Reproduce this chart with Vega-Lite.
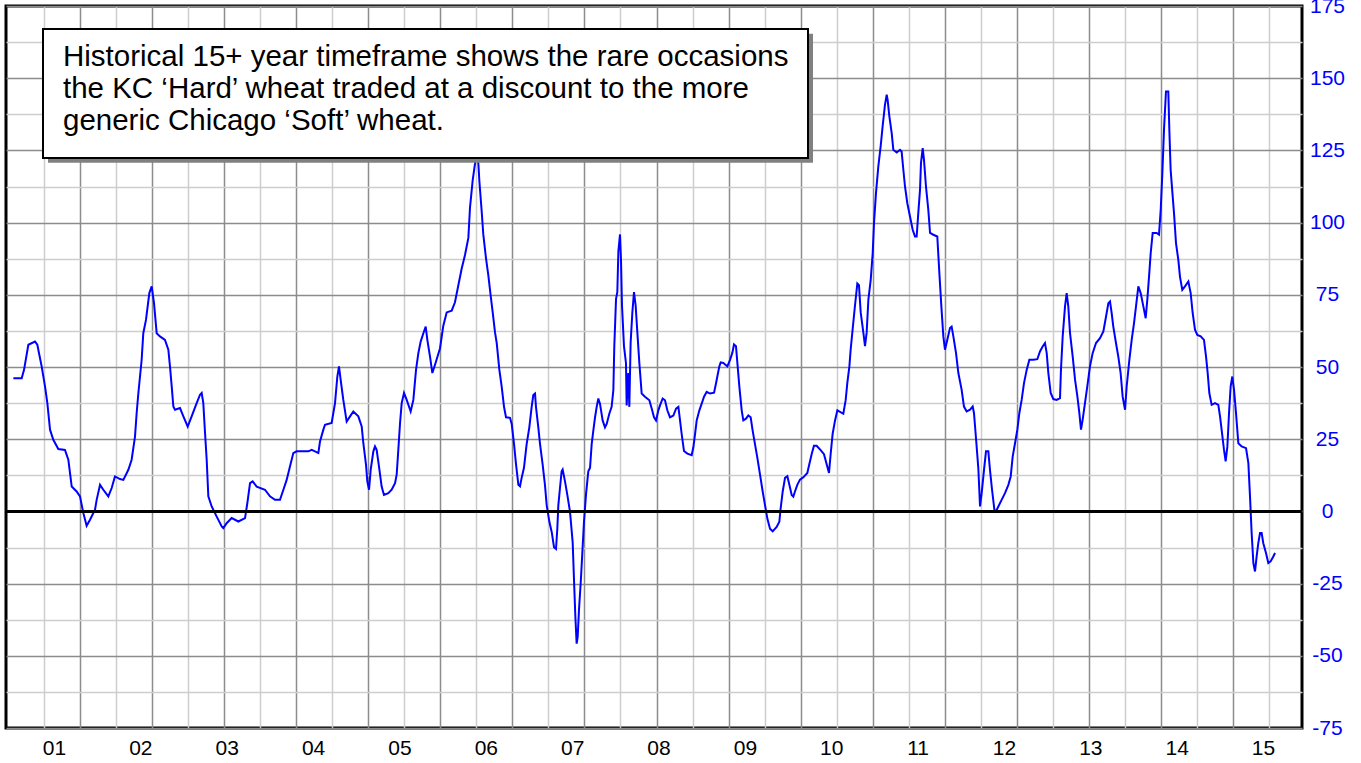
{
  "$schema": "https://vega.github.io/schema/vega-lite/v6.json",
  "width": 1296,
  "height": 722,
  "autosize": {"type": "none"},
  "padding": {"left": 6, "top": 6, "right": 59, "bottom": 35},
  "background": "white",
  "config": {"view": {"stroke": "black", "strokeWidth": 3}},
  "datasets": {
    "spread": [
      {"year":2000.529,"spread":46.1},{"year":2000.626,"spread":46.1},{"year":2000.653,"spread":49.0},{"year":2000.703,"spread":57.7},{"year":2000.780,"spread":58.8},{"year":2000.807,"spread":57.7},{"year":2000.857,"spread":50.2},{"year":2000.896,"spread":43.3},{"year":2000.923,"spread":37.5},{"year":2000.954,"spread":28.3},{"year":2000.992,"spread":24.8},{"year":2001.050,"spread":21.6},{"year":2001.127,"spread":21.3},{"year":2001.166,"spread":17.9},{"year":2001.205,"spread":8.6},{"year":2001.262,"spread":6.9},{"year":2001.301,"spread":5.2},{"year":2001.340,"spread":-0.6},{"year":2001.378,"spread":-5.0},{"year":2001.417,"spread":-2.9},{"year":2001.475,"spread":0.6},{"year":2001.494,"spread":4.0},{"year":2001.533,"spread":9.2},{"year":2001.571,"spread":7.5},{"year":2001.629,"spread":5.2},{"year":2001.668,"spread":8.1},{"year":2001.706,"spread":12.1},{"year":2001.764,"spread":11.2},{"year":2001.803,"spread":10.9},{"year":2001.861,"spread":14.4},{"year":2001.899,"spread":17.9},{"year":2001.938,"spread":25.9},{"year":2001.957,"spread":34.0},{"year":2001.977,"spread":41.0},{"year":2002.015,"spread":52.5},{"year":2002.034,"spread":61.7},{"year":2002.065,"spread":66.3},{"year":2002.104,"spread":75.6},{"year":2002.131,"spread":77.9},{"year":2002.142,"spread":75.6},{"year":2002.158,"spread":72.1},{"year":2002.189,"spread":61.7},{"year":2002.227,"spread":60.6},{"year":2002.285,"spread":59.4},{"year":2002.324,"spread":56.0},{"year":2002.343,"spread":50.2},{"year":2002.363,"spread":43.3},{"year":2002.382,"spread":36.3},{"year":2002.401,"spread":35.2},{"year":2002.459,"spread":35.8},{"year":2002.498,"spread":32.9},{"year":2002.548,"spread":29.4},{"year":2002.594,"spread":32.9},{"year":2002.652,"spread":37.5},{"year":2002.691,"spread":40.4},{"year":2002.710,"spread":41.0},{"year":2002.729,"spread":37.5},{"year":2002.749,"spread":27.1},{"year":2002.768,"spread":17.9},{"year":2002.787,"spread":5.2},{"year":2002.826,"spread":1.7},{"year":2002.884,"spread":-1.8},{"year":2002.942,"spread":-5.2},{"year":2002.961,"spread":-5.8},{"year":2002.999,"spread":-4.1},{"year":2003.057,"spread":-2.3},{"year":2003.135,"spread":-3.5},{"year":2003.212,"spread":-2.3},{"year":2003.239,"spread":2.9},{"year":2003.270,"spread":9.8},{"year":2003.300,"spread":10.4},{"year":2003.347,"spread":8.6},{"year":2003.443,"spread":7.5},{"year":2003.501,"spread":5.2},{"year":2003.559,"spread":4.0},{"year":2003.617,"spread":4.0},{"year":2003.656,"spread":7.5},{"year":2003.694,"spread":10.9},{"year":2003.733,"spread":15.6},{"year":2003.771,"spread":20.2},{"year":2003.810,"spread":20.8},{"year":2003.945,"spread":20.8},{"year":2003.984,"spread":21.3},{"year":2004.022,"spread":20.8},{"year":2004.061,"spread":20.2},{"year":2004.080,"spread":24.2},{"year":2004.119,"spread":28.3},{"year":2004.138,"spread":30.0},{"year":2004.215,"spread":30.6},{"year":2004.254,"spread":37.5},{"year":2004.281,"spread":46.7},{"year":2004.300,"spread":50.2},{"year":2004.319,"spread":45.6},{"year":2004.350,"spread":38.6},{"year":2004.389,"spread":31.1},{"year":2004.428,"spread":32.9},{"year":2004.466,"spread":34.6},{"year":2004.524,"spread":32.9},{"year":2004.563,"spread":29.4},{"year":2004.582,"spread":23.6},{"year":2004.613,"spread":16.1},{"year":2004.628,"spread":10.4},{"year":2004.648,"spread":7.5},{"year":2004.667,"spread":14.4},{"year":2004.698,"spread":20.8},{"year":2004.717,"spread":22.5},{"year":2004.736,"spread":21.3},{"year":2004.763,"spread":15.6},{"year":2004.794,"spread":8.6},{"year":2004.821,"spread":5.7},{"year":2004.871,"spread":6.3},{"year":2004.910,"spread":7.5},{"year":2004.949,"spread":9.8},{"year":2004.968,"spread":12.7},{"year":2004.987,"spread":21.3},{"year":2005.007,"spread":30.6},{"year":2005.026,"spread":37.5},{"year":2005.053,"spread":41.0},{"year":2005.084,"spread":38.6},{"year":2005.130,"spread":34.6},{"year":2005.161,"spread":38.6},{"year":2005.192,"spread":49.0},{"year":2005.219,"spread":54.8},{"year":2005.246,"spread":58.8},{"year":2005.277,"spread":61.7},{"year":2005.304,"spread":64.0},{"year":2005.323,"spread":59.4},{"year":2005.354,"spread":53.6},{"year":2005.381,"spread":47.9},{"year":2005.412,"spread":50.8},{"year":2005.470,"spread":56.5},
      {"year":2005.508,"spread":64.3},{"year":2005.547,"spread":68.9},{"year":2005.605,"spread":69.5},{"year":2005.643,"spread":72.4},{"year":2005.682,"spread":78.3},{"year":2005.721,"spread":84.1},{"year":2005.759,"spread":88.8},{"year":2005.798,"spread":94.7},{"year":2005.817,"spread":105.2},{"year":2005.848,"spread":114.6},{"year":2005.875,"spread":120.4},{"year":2005.894,"spread":127.4},{"year":2005.914,"spread":120.4},{"year":2005.925,"spread":114.6},{"year":2005.952,"spread":104.0},{"year":2005.971,"spread":95.9},{"year":2006.002,"spread":87.7},{"year":2006.029,"spread":81.8},{"year":2006.056,"spread":74.8},{"year":2006.080,"spread":68.9},{"year":2006.107,"spread":61.9},{"year":2006.126,"spread":58.4},{"year":2006.157,"spread":49.0},{"year":2006.184,"spread":43.2},{"year":2006.211,"spread":36.2},{"year":2006.234,"spread":32.6},{"year":2006.280,"spread":32.4},{"year":2006.300,"spread":30.3},{"year":2006.327,"spread":23.3},{"year":2006.350,"spread":16.3},{"year":2006.377,"spread":9.2},{"year":2006.396,"spread":8.7},{"year":2006.415,"spread":11.6},{"year":2006.442,"spread":15.1},{"year":2006.473,"spread":23.3},{"year":2006.504,"spread":29.1},{"year":2006.531,"spread":36.2},{"year":2006.550,"spread":40.3},{"year":2006.570,"spread":40.8},{"year":2006.581,"spread":36.2},{"year":2006.608,"spread":29.1},{"year":2006.628,"spread":23.3},{"year":2006.658,"spread":16.3},{"year":2006.685,"spread":9.2},{"year":2006.705,"spread":2.2},{"year":2006.736,"spread":-3.6},{"year":2006.763,"spread":-7.1},{"year":2006.790,"spread":-12.4},{"year":2006.813,"spread":-13.0},{"year":2006.828,"spread":-6.0},{"year":2006.840,"spread":2.2},{"year":2006.859,"spread":8.1},{"year":2006.878,"spread":13.9},{"year":2006.890,"spread":14.5},{"year":2006.917,"spread":10.4},{"year":2006.944,"spread":5.7},{"year":2006.975,"spread":-0.1},{"year":2007.006,"spread":-10.7},{"year":2007.021,"spread":-23.5},{"year":2007.037,"spread":-36.4},{"year":2007.052,"spread":-45.8},{"year":2007.064,"spread":-43.4},{"year":2007.079,"spread":-34.1},{"year":2007.099,"spread":-24.7},{"year":2007.118,"spread":-14.2},{"year":2007.137,"spread":-3.6},{"year":2007.160,"spread":5.7},{"year":2007.187,"spread":13.9},{"year":2007.207,"spread":15.1},{"year":2007.226,"spread":23.3},{"year":2007.245,"spread":28.0},{"year":2007.265,"spread":32.6},{"year":2007.284,"spread":36.2},{"year":2007.303,"spread":39.1},{"year":2007.322,"spread":37.3},{"year":2007.353,"spread":31.5},{"year":2007.380,"spread":29.1},{"year":2007.400,"spread":30.3},{"year":2007.430,"spread":33.8},{"year":2007.457,"spread":36.2},{"year":2007.477,"spread":42.0},{"year":2007.488,"spread":57.2},{"year":2007.508,"spread":73.6},{"year":2007.523,"spread":75.9},{"year":2007.535,"spread":90.0},{"year":2007.554,"spread":95.9},{"year":2007.566,"spread":86.5},{"year":2007.577,"spread":71.3},{"year":2007.600,"spread":57.2},{"year":2007.623,"spread":51.4},{"year":2007.631,"spread":36.7},{"year":2007.650,"spread":47.9},{"year":2007.662,"spread":36.2},{"year":2007.677,"spread":58.4},{"year":2007.697,"spread":68.9},{"year":2007.716,"spread":75.9},{"year":2007.735,"spread":71.3},{"year":2007.755,"spread":61.9},{"year":2007.778,"spread":51.4},{"year":2007.805,"spread":40.8},{"year":2007.843,"spread":39.7},{"year":2007.894,"spread":38.5},{"year":2007.921,"spread":35.6},{"year":2007.948,"spread":32.6},{"year":2007.971,"spread":31.5},{"year":2007.998,"spread":35.0},{"year":2008.017,"spread":36.7},{"year":2008.048,"spread":39.1},{"year":2008.075,"spread":38.5},{"year":2008.102,"spread":35.0},{"year":2008.133,"spread":32.6},{"year":2008.172,"spread":33.2},{"year":2008.203,"spread":35.6},{"year":2008.230,"spread":36.2},{"year":2008.249,"spread":31.5},{"year":2008.268,"spread":26.8},{"year":2008.295,"spread":20.9},{"year":2008.334,"spread":20.0},{"year":2008.384,"spread":19.5},{"year":2008.403,"spread":22.1},{"year":2008.423,"spread":26.8},{"year":2008.442,"spread":31.5},{"year":2008.473,"spread":35.0},{"year":2008.500,"spread":37.3},{"year":2008.527,"spread":39.7},{"year":2008.558,"spread":41.4},{"year":2008.596,"spread":40.8},{"year":2008.643,"spread":41.1},{"year":2008.666,"spread":44.4},{"year":2008.681,"spread":46.7},{"year":2008.704,"spread":50.2},{"year":2008.720,"spread":51.6},{"year":2008.751,"spread":51.4},{"year":2008.797,"spread":50.2},{"year":2008.828,"spread":52.5},{"year":2008.855,"spread":54.9},{"year":2008.874,"spread":57.8},{"year":2008.897,"spread":57.2},{"year":2008.913,"spread":51.4},{"year":2008.936,"spread":43.2},{"year":2008.963,"spread":35.0},{"year":2008.982,"spread":31.5},{"year":2009.013,"spread":32.1},{"year":2009.040,"spread":33.2},{"year":2009.067,"spread":32.6},{"year":2009.090,"spread":28.0},{"year":2009.117,"spread":23.3},{"year":2009.144,"spread":18.6},{"year":2009.175,"spread":12.8},{"year":2009.206,"spread":6.9},{"year":2009.233,"spread":2.2},{"year":2009.260,"spread":-2.5},{"year":2009.291,"spread":-6.0},{"year":2009.322,"spread":-6.9},{"year":2009.368,"spread":-5.4},{"year":2009.399,"spread":-3.6},{"year":2009.414,"spread":1.0},{"year":2009.438,"spread":6.9},{"year":2009.465,"spread":11.6},{"year":2009.492,"spread":12.2},{"year":2009.515,"spread":9.2},{"year":2009.542,"spread":5.7},{"year":2009.561,"spread":5.1},{"year":2009.580,"spread":6.9},{"year":2009.607,"spread":9.2},{"year":2009.638,"spread":11.0},{"year":2009.677,"spread":11.8},{"year":2009.723,"spread":13.3},{"year":2009.746,"spread":16.3},{"year":2009.773,"spread":19.8},{"year":2009.800,"spread":22.7},{"year":2009.831,"spread":22.7},{"year":2009.877,"spread":21.2},{"year":2009.916,"spread":19.8},{"year":2009.947,"spread":16.3},{"year":2009.974,"spread":13.3},{"year":2009.993,"spread":19.8},{"year":2010.016,"spread":26.8},{"year":2010.044,"spread":31.5},{"year":2010.071,"spread":35.0},{"year":2010.140,"spread":33.8},{"year":2010.167,"spread":38.5},{"year":2010.186,"spread":44.4},{"year":2010.210,"spread":50.2},{"year":2010.225,"spread":56.1},{"year":2010.248,"spread":63.1},{"year":2010.275,"spread":71.3},{"year":2010.302,"spread":78.9},{"year":2010.321,"spread":78.3},{"year":2010.341,"spread":68.9},{"year":2010.372,"spread":61.9},{"year":2010.391,"spread":57.2},{"year":2010.410,"spread":61.9},
      {"year":2010.430,"spread":73.3},{"year":2010.457,"spread":80.2},{"year":2010.480,"spread":89.4},{"year":2010.495,"spread":99.8},{"year":2010.518,"spread":110.2},{"year":2010.545,"spread":119.4},{"year":2010.572,"spread":126.4},{"year":2010.595,"spread":133.3},{"year":2010.622,"spread":140.8},{"year":2010.642,"spread":144.3},{"year":2010.653,"spread":142.5},{"year":2010.673,"spread":136.8},{"year":2010.700,"spread":131.0},{"year":2010.719,"spread":125.2},{"year":2010.758,"spread":124.3},{"year":2010.796,"spread":125.2},{"year":2010.815,"spread":124.6},{"year":2010.835,"spread":118.3},{"year":2010.854,"spread":112.5},{"year":2010.881,"spread":106.7},{"year":2010.912,"spread":102.1},{"year":2010.943,"spread":97.5},{"year":2010.970,"spread":95.2},{"year":2010.989,"spread":95.2},{"year":2011.008,"spread":103.3},{"year":2011.028,"spread":111.4},{"year":2011.039,"spread":120.6},{"year":2011.059,"spread":125.8},{"year":2011.074,"spread":121.7},{"year":2011.097,"spread":112.5},{"year":2011.124,"spread":104.4},{"year":2011.144,"spread":96.4},{"year":2011.182,"spread":95.8},{"year":2011.228,"spread":95.2},{"year":2011.252,"spread":82.5},{"year":2011.275,"spread":71.0},{"year":2011.298,"spread":60.6},{"year":2011.317,"spread":56.0},{"year":2011.344,"spread":59.4},{"year":2011.375,"spread":63.5},{"year":2011.394,"spread":64.0},{"year":2011.414,"spread":60.6},{"year":2011.445,"spread":54.8},{"year":2011.472,"spread":47.9},{"year":2011.510,"spread":42.1},{"year":2011.537,"spread":36.3},{"year":2011.568,"spread":34.6},{"year":2011.607,"spread":35.2},{"year":2011.638,"spread":36.3},{"year":2011.653,"spread":34.0},{"year":2011.676,"spread":25.4},{"year":2011.703,"spread":15.0},{"year":2011.723,"spread":1.7},{"year":2011.742,"spread":6.3},{"year":2011.769,"spread":14.4},{"year":2011.792,"spread":20.8},{"year":2011.819,"spread":20.8},{"year":2011.838,"spread":14.4},{"year":2011.862,"spread":7.5},{"year":2011.889,"spread":0.6},{"year":2011.908,"spread":0.0},{"year":2011.935,"spread":1.7},{"year":2011.973,"spread":4.0},{"year":2012.012,"spread":6.3},{"year":2012.051,"spread":9.2},{"year":2012.078,"spread":12.1},{"year":2012.101,"spread":19.0},{"year":2012.128,"spread":23.6},{"year":2012.155,"spread":28.3},{"year":2012.178,"spread":34.0},{"year":2012.205,"spread":38.6},{"year":2012.232,"spread":44.4},{"year":2012.263,"spread":49.0},{"year":2012.294,"spread":52.5},{"year":2012.340,"spread":52.5},{"year":2012.386,"spread":52.7},{"year":2012.417,"spread":55.4},{"year":2012.448,"spread":57.1},{"year":2012.475,"spread":58.3},{"year":2012.495,"spread":54.8},{"year":2012.514,"spread":47.9},{"year":2012.541,"spread":41.0},{"year":2012.572,"spread":38.9},{"year":2012.610,"spread":38.6},{"year":2012.649,"spread":39.2},{"year":2012.660,"spread":49.0},{"year":2012.680,"spread":60.6},{"year":2012.707,"spread":71.0},{"year":2012.726,"spread":75.6},{"year":2012.745,"spread":71.0},{"year":2012.765,"spread":61.7},{"year":2012.796,"spread":53.6},{"year":2012.823,"spread":45.6},{"year":2012.850,"spread":39.8},{"year":2012.873,"spread":34.0},{"year":2012.892,"spread":28.3},{"year":2012.911,"spread":31.7},{"year":2012.938,"spread":37.5},{"year":2012.965,"spread":43.3},{"year":2012.996,"spread":50.2},{"year":2013.027,"spread":54.8},{"year":2013.066,"spread":58.3},{"year":2013.112,"spread":60.0},{"year":2013.151,"spread":62.3},{"year":2013.182,"spread":67.5},{"year":2013.209,"spread":72.1},{"year":2013.228,"spread":72.7},{"year":2013.247,"spread":68.7},{"year":2013.266,"spread":64.0},{"year":2013.297,"spread":58.3},{"year":2013.324,"spread":53.6},{"year":2013.351,"spread":47.9},{"year":2013.374,"spread":39.8},{"year":2013.402,"spread":35.2},{"year":2013.421,"spread":43.3},{"year":2013.452,"spread":52.5},{"year":2013.479,"spread":59.4},{"year":2013.506,"spread":65.2},{"year":2013.529,"spread":71.0},{"year":2013.556,"spread":77.9},{"year":2013.583,"spread":75.6},{"year":2013.614,"spread":71.0},{"year":2013.641,"spread":66.9},{"year":2013.660,"spread":73.3},{"year":2013.680,"spread":81.3},{"year":2013.699,"spread":89.4},{"year":2013.722,"spread":96.4},{"year":2013.768,"spread":96.4},{"year":2013.795,"spread":95.8},{"year":2013.815,"spread":104.4},{"year":2013.834,"spread":117.1},{"year":2013.853,"spread":132.1},{"year":2013.876,"spread":145.4},{"year":2013.903,"spread":145.4},{"year":2013.915,"spread":132.1},{"year":2013.930,"spread":118.3},{"year":2013.954,"spread":109.0},{"year":2013.969,"spread":103.3},{"year":2013.992,"spread":92.9},{"year":2014.019,"spread":87.1},{"year":2014.038,"spread":81.3},{"year":2014.065,"spread":76.7},{"year":2014.096,"spread":77.9},{"year":2014.135,"spread":79.6},{"year":2014.162,"spread":75.6},{"year":2014.185,"spread":68.7},{"year":2014.212,"spread":62.9},{"year":2014.239,"spread":61.1},{"year":2014.278,"spread":60.6},{"year":2014.316,"spread":59.4},{"year":2014.340,"spread":53.6},{"year":2014.359,"spread":47.9},{"year":2014.378,"spread":41.0},{"year":2014.405,"spread":36.9},{"year":2014.444,"spread":37.5},{"year":2014.482,"spread":36.9},{"year":2014.502,"spread":32.9},{"year":2014.525,"spread":27.1},{"year":2014.548,"spread":21.3},{"year":2014.567,"spread":17.3},{"year":2014.587,"spread":22.5},{"year":2014.606,"spread":34.0},{"year":2014.625,"spread":43.3},{"year":2014.644,"spread":46.7},{"year":2014.664,"spread":42.1},{"year":2014.687,"spread":34.0},{"year":2014.714,"spread":23.6},{"year":2014.752,"spread":22.5},{"year":2014.803,"spread":21.9},{"year":2014.830,"spread":16.7},{"year":2014.849,"spread":5.2},{"year":2014.868,"spread":-7.5},{"year":2014.888,"spread":-17.9},{"year":2014.907,"spread":-20.8},{"year":2014.926,"spread":-15.6},{"year":2014.945,"spread":-11.0},{"year":2014.965,"spread":-7.5},{"year":2014.984,"spread":-7.5},{"year":2015.003,"spread":-11.0},{"year":2015.034,"spread":-14.4},{"year":2015.061,"spread":-17.9},{"year":2015.088,"spread":-17.3},{"year":2015.119,"spread":-15.6},{"year":2015.139,"spread":-14.4}
    ]
  },
  "layer": [
    {
      "data": {"name": "spread"},
      "mark": {"type": "line", "color": "#0000ff", "strokeWidth": 2, "clip": true},
      "encoding": {
        "x": {
          "field": "year",
          "type": "quantitative",
          "scale": {"domain": [2000.4442, 2015.4511], "nice": false, "zero": false},
          "axis": {
            "orient": "bottom",
            "title": null,
            "tickCount": 200,
            "values": [2000.8842, 2001.3014, 2001.7186, 2002.1358, 2002.553, 2002.9703, 2003.3875, 2003.8047, 2004.2219, 2004.6391, 2005.0563, 2005.4735, 2005.8907, 2006.3079, 2006.7251, 2007.1424, 2007.5596, 2007.9768, 2008.394, 2008.8112, 2009.2284, 2009.6456, 2010.0628, 2010.48, 2010.8972, 2011.3145, 2011.7317, 2012.1489, 2012.5661, 2012.9833, 2013.4005, 2013.8177, 2014.2349, 2014.6521, 2015.0693, 2001, 2002, 2003, 2004, 2005, 2006, 2007, 2008, 2009, 2010, 2011, 2012, 2013, 2014, 2015],
            "domain": false,
            "ticks": false,
            "tickSize": 0,
            "labelPadding": 9,
            "labelFont": "Liberation Sans",
            "labelFontSize": 21,
            "labelColor": "black",
            "labelExpr": "datum.value % 1 === 0 ? substring(toString(datum.value), 2) : ''",
            "labelOverlap": false,
            "labelFlush": false,
            "labelBound": false,
            "gridOpacity": {"condition": {"test": "datum.value % 1 === 0", "value": 0}, "value": 1},
            "gridColor": {"condition": {"test": "round((datum.value - 2000.8842) / 0.41721) % 2 === 1", "value": "#8c8c8c"}, "value": "#cdcdcd"},
            "gridWidth": 1.5
          }
        },
        "y": {
          "field": "spread",
          "type": "quantitative",
          "scale": {"domain": [-75, 175], "nice": false, "zero": false},
          "axis": {
            "orient": "right",
            "title": null,
            "tickCount": 200,
            "values": [-75, -62.5, -50, -37.5, -25, -12.5, 0, 12.5, 25, 37.5, 50, 62.5, 75, 87.5, 100, 112.5, 125, 137.5, 150, 162.5, 175],
            "domain": false,
            "ticks": false,
            "tickSize": 0,
            "labelPadding": 25,
            "labelAlign": "center",
            "labelBaseline": "middle",
            "labelFont": "Liberation Sans",
            "labelFontSize": 21,
            "labelColor": "#0000ff",
            "labelExpr": "datum.value % 25 === 0 ? toString(datum.value) : ''",
            "labelOverlap": false,
            "labelBound": false,
            "labelFlush": false,
            "gridColor": {"condition": {"test": "datum.value % 25 === 0", "value": "#8c8c8c"}, "value": "#cdcdcd"},
            "gridWidth": 1.5
          }
        }
      }
    },
    {
      "data": {"values": [{}]},
      "mark": {"type": "rule", "color": "black", "strokeWidth": 3},
      "encoding": {"y": {"datum": 0}}
    },
    {
      "data": {"values": [{}]},
      "mark": {"type": "rect", "fill": "#808080"},
      "encoding": {
        "x": {"datum": 2000.9305},
        "x2": {"datum": 2009.7888},
        "y": {"datum": 165.4},
        "y2": {"datum": 120.7}
      }
    },
    {
      "data": {"values": [{}]},
      "mark": {"type": "rect", "fill": "white", "stroke": "black", "strokeWidth": 2},
      "encoding": {
        "x": {"datum": 2000.8726},
        "x2": {"datum": 2009.7309},
        "y": {"datum": 167.0},
        "y2": {"datum": 122.4}
      }
    },
    {
      "data": {"values": [{}]},
      "mark": {"type": "text", "align": "left", "baseline": "alphabetic", "font": "Liberation Sans", "fontSize": 29.5, "lineHeight": 32, "color": "black"},
      "encoding": {
        "x": {"datum": 2001.104},
        "y": {"datum": 154.1},
        "text": {"value": ["Historical 15+ year timeframe shows the rare occasions", "the KC \u2018Hard\u2019 wheat traded at a discount to the more", "generic Chicago \u2018Soft\u2019 wheat."]}
      }
    }
  ]
}
